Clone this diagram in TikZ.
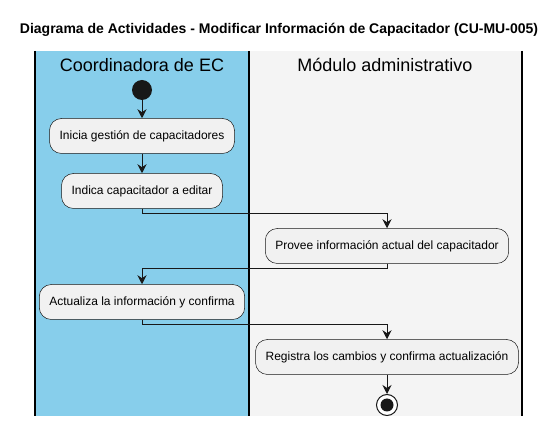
\documentclass[tikz,border=0pt]{standalone}
\usepackage{fontspec}
\setmainfont{Liberation Sans}
\usetikzlibrary{arrows.meta}
\definecolor{laneblue}{HTML}{87CEEB}
\definecolor{lanegray}{HTML}{F4F4F4}
\definecolor{boxfill}{HTML}{F1F1F1}
\definecolor{boxline}{HTML}{181818}
\begin{document}
\begin{tikzpicture}[x=1pt,y=-1pt,
  act/.style={draw=boxline,line width=0.5pt,fill=boxfill,rounded corners=12pt,minimum height=35pt,inner xsep=10pt,font=\fontsize{12}{14}\selectfont},
  flow/.style={draw=boxline,line width=1pt,-{Stealth[length=9pt,width=9pt,inset=3pt]}},
  lanehead/.style={font=\fontsize{18}{20}\selectfont}]
\useasboundingbox (0,0) rectangle (560,427);
\fill[laneblue] (35,51) rectangle (249,416);
\fill[lanegray] (249,51) rectangle (522,416);
\draw[line width=1.2pt] (35,51) -- (35,416);
\draw[line width=1.2pt] (249,51) -- (249,416);
\draw[line width=1.2pt] (522,51) -- (522,416);
\node[font=\bfseries\fontsize{14}{16}\selectfont] (title) at (279,30) {Diagrama de Actividades - Modificar Información de Capacitador (CU-MU-005)};
\node[lanehead] (h1) at (142,65) {Coordinadora de EC};
\node[lanehead] (h2) at (385,65) {Módulo administrativo};
\node[circle,fill=boxline,minimum size=20pt,inner sep=0pt] (start) at (142,90) {};
\node[act,minimum width=185pt] (a1) at (142,136) {Inicia gestión de capacitadores};
\node[act,minimum width=161pt] (a2) at (142,191) {Indica capacitador a editar};
\node[act,minimum width=243pt] (a3) at (387,246) {Provee información actual del capacitador};
\node[act,minimum width=205pt] (a4) at (142,302) {Actualiza la información y confirma};
\node[act,minimum width=263pt] (a5) at (387,357) {Registra los cambios y confirma actualización};
\node[circle,draw=boxline,line width=1pt,fill=white,minimum size=21pt,inner sep=0pt] (stop) at (387,405) {};
\node[circle,fill=boxline,minimum size=13pt,inner sep=0pt] (stopin) at (stop) {};
\draw[flow] (start) -- (a1);
\draw[flow] (a1) -- (a2);
\draw[flow] (a2.south) -- ++(0,5) -| (a3.north);
\draw[flow] (a3.south) -- ++(0,5) -| (a4.north);
\draw[flow] (a4.south) -- ++(0,5) -| (a5.north);
\draw[flow] (a5) -- (stop);
\end{tikzpicture}
\end{document}
